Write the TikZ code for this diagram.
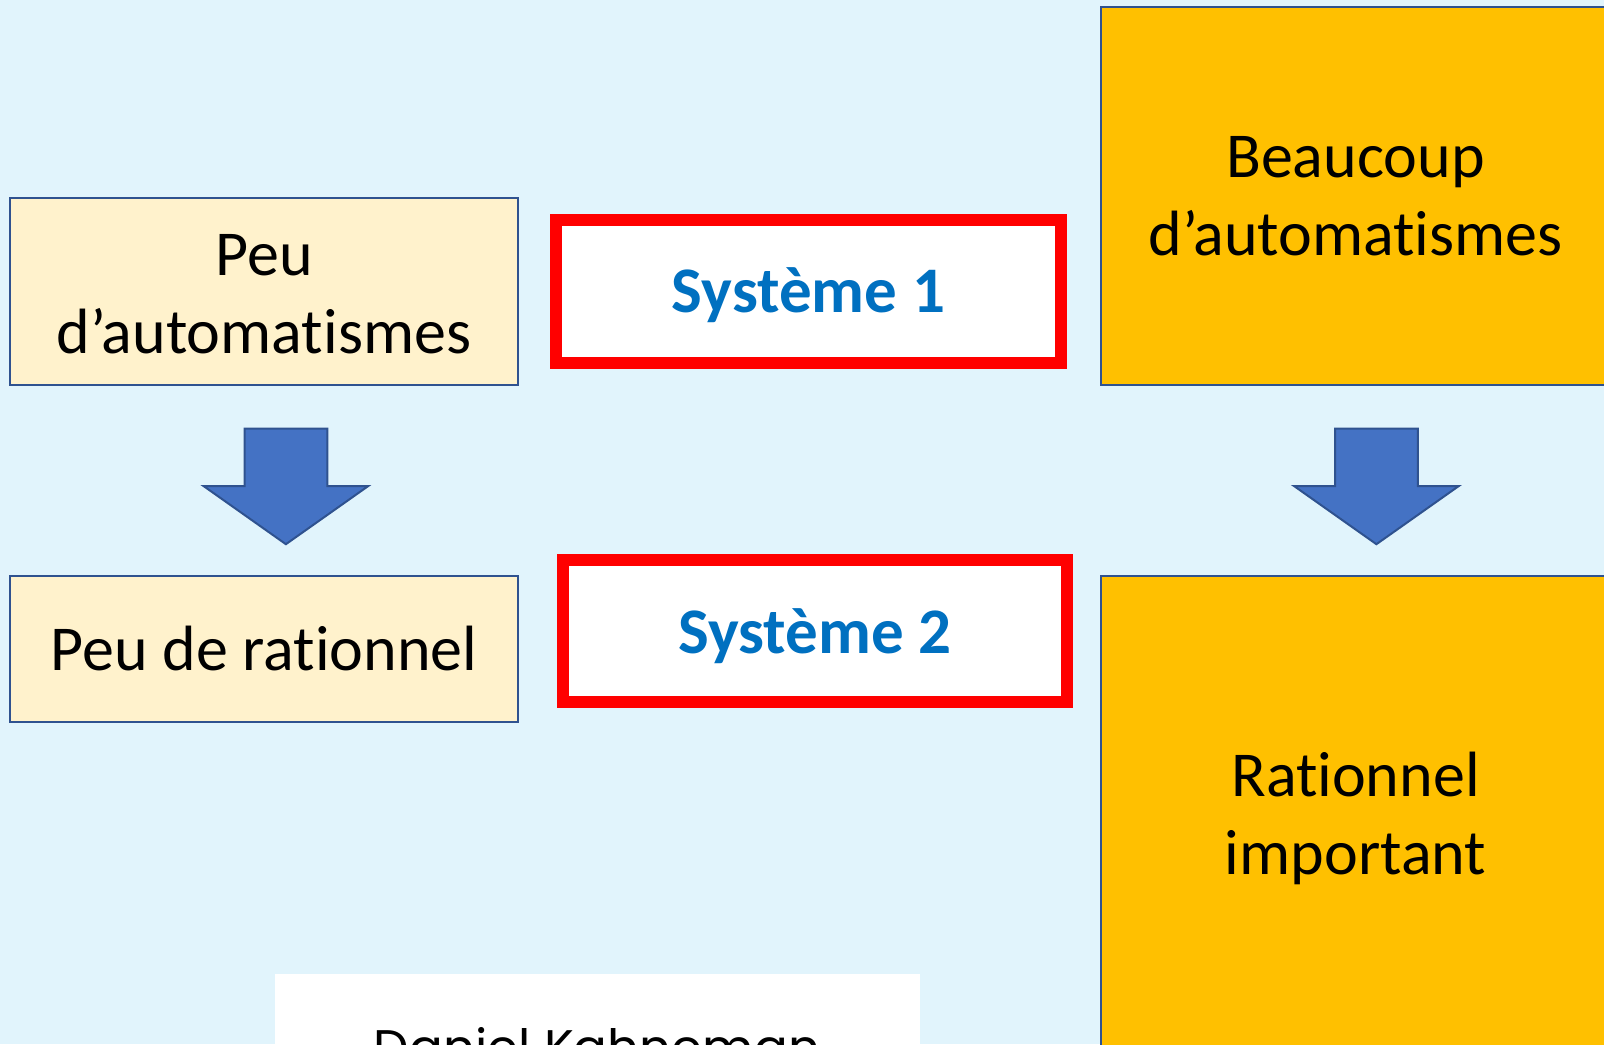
\documentclass[tikz,border=0pt]{standalone}
\usepackage{fontspec}
\setmainfont{Carlito}[Ligatures={NoCommon,NoContextual}]
\newfontfamily\kahnfont{Poppins}
\definecolor{bgblue}{RGB}{225,244,252}
\definecolor{paleyellow}{RGB}{255,242,204}
\definecolor{amber}{RGB}{255,192,0}
\definecolor{edgeblue}{RGB}{47,82,143}
\definecolor{arrowblue}{RGB}{68,114,196}
\definecolor{sysblue}{RGB}{0,112,192}
\definecolor{sysred}{RGB}{255,0,0}
\tikzset{
  txt/.style={font=\fontsize{32}{39}\selectfont, align=center, inner sep=0pt},
  palebox/.style={txt, draw=edgeblue, line width=1pt, fill=paleyellow},
  amberbox/.style={txt, draw=edgeblue, line width=1pt, fill=amber},
  sysbox/.style={draw=sysred, line width=6pt, fill=white, inner sep=0pt,
    text=sysblue, font=\fontsize{32.5}{40}\selectfont\bfseries},
  bigarrow/.style={draw=edgeblue, line width=1pt, fill=arrowblue, line join=miter},
}
\begin{document}
\begin{tikzpicture}[x=0.5pt,y=-0.5pt]
\useasboundingbox (0,0) rectangle (1604,1044);
\fill[bgblue] (0,0) rectangle (1604,1044);
\clip (0,0) rectangle (1604,1044);

% left column
\node[palebox, minimum width=254pt, minimum height=93.5pt] (peuauto) at (264,291.5) {};
\node[txt] at ([yshift=-1.5pt]peuauto.center) {Peu\\d’automatismes};
\node[palebox, minimum width=254pt, minimum height=73pt] (peurat) at (264,649)
  {Peu de rationnel};

% middle column
\node[sysbox, minimum width=252.5pt, minimum height=71.5pt] (sys1) at (808.5,291.5) {};
\node[sysbox, draw=none, fill=none] at ([yshift=-2pt]sys1.center) {Système 1};
\node[sysbox, minimum width=252.25pt, minimum height=70.75pt] (sys2) at (814.8,631.2) {};
\node[sysbox, draw=none, fill=none] at ([yshift=-2.5pt]sys2.center) {Système 2};

% right column
\node[amberbox, minimum width=254.5pt, minimum height=189pt] (beaucoup) at (1355.5,196)
  {Beaucoup\\d’automatismes};
\node[amberbox, minimum width=254.5pt, minimum height=242pt] (ratimp) at (1355.5,818)
  {Rationnel\\important};

% block arrows
\coordinate (arrL) at (285.9,428.6);
\coordinate (arrR) at (1376.4,428.6);
\foreach \a in {arrL,arrR}{
  \draw[bigarrow] (\a) ++(-41.4,0) -- ++(82.8,0) -- ++(0,57.4) -- ++(41,0)
    -- ++(-82.4,58.2) -- ++(-82.4,-58.2) -- ++(41,0) -- cycle;
}

% caption box
\fill[white] (275,974) rectangle (920,1100);
\node[anchor=base, inner sep=0pt, font=\kahnfont\fontsize{25}{30}\selectfont] (kahneman) at (597,1065) {Daniel Kahneman};
\end{tikzpicture}
\end{document}
